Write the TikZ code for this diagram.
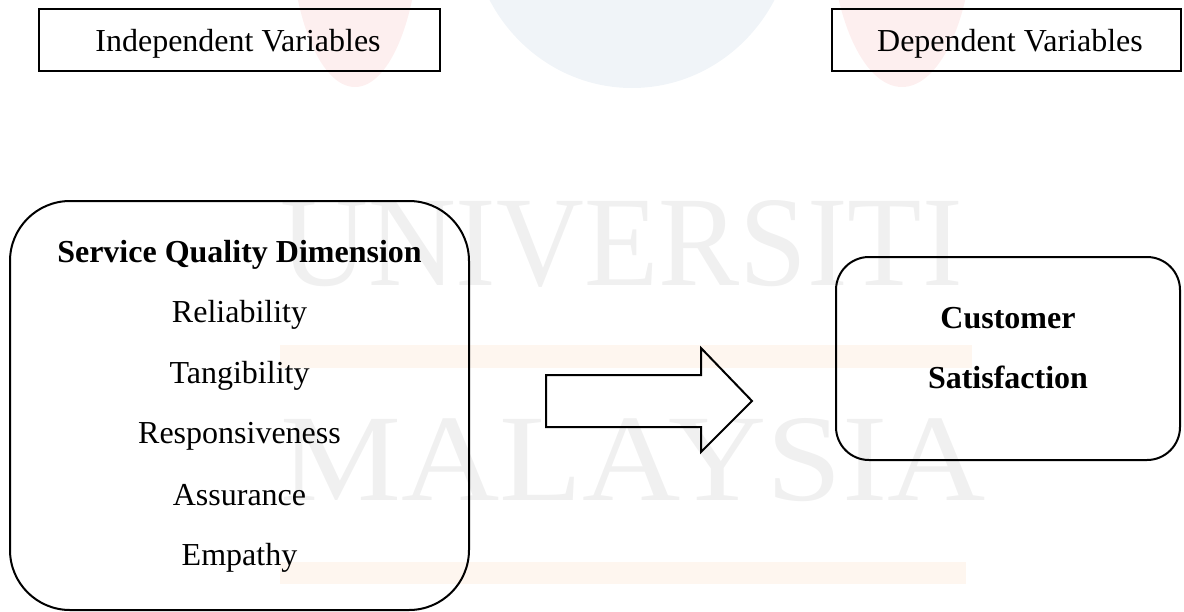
\documentclass[tikz,border=0pt]{standalone}
\usepackage{fontspec}
\setmainfont{Liberation Serif}
\usepackage{graphicx}
\definecolor{wm}{HTML}{F0F0F0}
\definecolor{peach}{HTML}{FEF6EF}
\definecolor{wmred}{HTML}{FDEFEF}
\definecolor{wmblue}{HTML}{F0F4F8}
\begin{document}
\begin{tikzpicture}[x=1pt,y=-1pt,
  frame/.style={draw, line width=2.2pt, inner sep=0pt},
  roundframe/.style={draw, line width=2pt, inner sep=0pt},
  lbl/.style={font=\fontsize{32}{38}\selectfont, anchor=base, inner sep=0pt},
  blbl/.style={font=\fontsize{32}{38}\selectfont\bfseries, anchor=base, inner sep=0pt},
  wmtext/.style={anchor=base west, inner sep=0pt, text=wm},
  blockarrow/.style={draw, line width=2pt, line join=miter}]
\useasboundingbox (0,0) rectangle (1184,611);
% faint watermark
\fill[wmred] (355,-80) ellipse [x radius=65, y radius=167];
\fill[wmblue] (632,-80) ellipse [x radius=162, y radius=168];
\fill[wmred] (902,-80) ellipse [x radius=72, y radius=167];
\fill[peach] (280,345) rectangle (972,368);
\fill[peach] (280,562) rectangle (966,584);
\node[wmtext] (wm1) at (280,285) {\resizebox{682pt}{85pt}{UNIVERSITI}};
\node[wmtext] (wm2) at (280,500) {\resizebox{705pt}{82pt}{MALAYSIA}};
% header boxes
\node[frame, minimum width=401pt, minimum height=62pt] (ivbox) at (239.5,40) {};
\node[lbl] (iv) at (238,51) {Independent Variables};
\node[frame, minimum width=349pt, minimum height=62pt] (dvbox) at (1006.5,40) {};
\node[lbl] (dv) at (1010,51) {Dependent Variables};
% service quality box
\node[roundframe, rounded corners=60pt, minimum width=459pt, minimum height=409pt] (sqd) at (239.5,405.5) {};
\node[blbl] (t0) at (239.5,262) {Service Quality Dimension};
\node[lbl] (t1) at (239.5,322) {Reliability};
\node[lbl] (t2) at (239.5,383) {Tangibility};
\node[lbl] (t3) at (239.5,443) {Responsiveness};
\node[lbl] (t4) at (239.5,505) {Assurance};
\node[lbl] (t5) at (239.5,565) {Empathy};
% customer satisfaction box
\node[roundframe, rounded corners=33pt, minimum width=344pt, minimum height=203pt] (cs) at (1008,358.5) {};
\node[blbl] (c1) at (1008,328) {Customer};
\node[blbl] (c2) at (1008,388) {Satisfaction};
% block arrow
\draw[blockarrow] (546,375) -- (701,375) -- (701,348) -- (752,401) -- (701,452) -- (701,427) -- (546,427) -- cycle;
\end{tikzpicture}
\end{document}
